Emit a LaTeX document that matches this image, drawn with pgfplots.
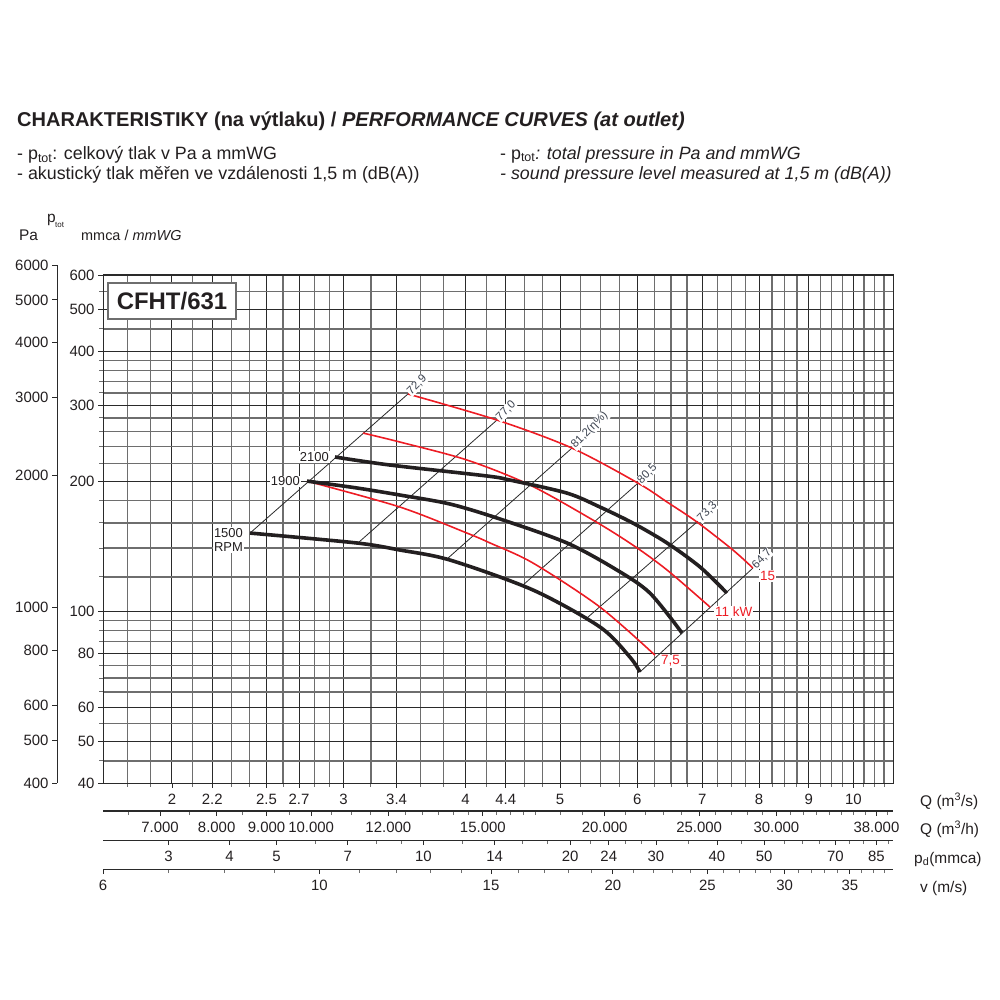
\documentclass[border=0pt]{standalone}
\usepackage{fontspec}
\setmainfont{Liberation Sans}
\usepackage{pgfplots}
\pgfplotsset{compat=1.18}
\definecolor{gridd}{HTML}{2A2A2A}
\definecolor{gridl}{HTML}{6E6E6E}
\definecolor{kw}{HTML}{ED1C24}
\definecolor{eta}{HTML}{3C4350}
\definecolor{ink}{HTML}{231F20}

\pgfplotsset{
  sheet/.style={
    scale only axis, width=790bp,
    tick align=outside, major tick length=5bp, minor tick length=4bp,
    every tick/.style={gridd, line width=0.8bp},
    every minor tick/.style={gridl, line width=1bp},
    axis line style={gridd, line width=1bp},
    tick label style={font=\fontsize{15}{15}\selectfont, text=ink},
    /pgf/number format/assume math mode=true,
  },
  strip/.style={
    sheet, anchor=south west, height=1bp, ymin=0, ymax=1,
    axis x line*=bottom, hide y axis, tick align=outside,
    xticklabel shift=3bp,
  },
}

\begin{document}
\begin{tikzpicture}[x=1bp,y=-1bp]
\path[use as bounding box] (0,0) rectangle (1000,1000);

% headings
\node[anchor=base west, inner sep=0, text=ink, font=\fontsize{20.1}{21}\selectfont\bfseries]
  at (17,126.5) {CHARAKTERISTIKY (na výtlaku) / \textit{PERFORMANCE CURVES (at outlet)}};
\begin{scope}[every node/.style={anchor=base west, inner sep=0, text=ink, font=\fontsize{17.9}{18}\selectfont}]
\node at (17,159.5) {- p\textsubscript{tot}: celkový tlak v Pa a mmWG};
\node at (17,179) {- akustický tlak měřen ve vzdálenosti 1,5 m (dB(A))};
\node at (500,159) {- p\textsubscript{tot}\textit{: total pressure in Pa and mmWG}};
\node at (500,179) {\textit{- sound pressure level measured at 1,5 m (dB(A))}};
\end{scope}
\begin{scope}[every node/.style={anchor=base west, inner sep=0, text=ink}]
\node[font=\fontsize{15.5}{15}\selectfont] at (19,240.5) {Pa};
\node[font=\fontsize{15.5}{15}\selectfont] at (47,222) {p};
\node[font=\fontsize{8}{8}\selectfont] at (55,227) {tot};
\node[font=\fontsize{14.5}{14}\selectfont] at (81,240.5) {mmca / \textit{mmWG}};
\end{scope}

% Pa scale
\begin{axis}[sheet, at={(57bp,-783bp)}, anchor=south west, width=1bp, height=518bp,
  ymode=log, ymin=400, ymax=6000, xmin=0, xmax=1,
  axis y line*=left, hide x axis, tick align=outside,
  ytick={400,500,600,800,1000,2000,3000,4000,5000,6000},
  yticklabels={400,500,600,800,1000,2000,3000,4000,5000,6000},
  minor ytick={}]
\end{axis}

% main chart, mmWG against Q (m3/s)
\begin{axis}[sheet, at={(103bp,-783bp)}, anchor=south west, height=508bp,
  xmode=log, ymode=log,
  xmin=1.6995, xmax=10.979, ymin=40, ymax=600,
  tick pos=left,
  xtick={2,2.2,2.5,2.7,3,3.4,4,4.4,5,6,7,8,9,10},
  xticklabels={2,2.2,2.5,2.7,3,3.4,4,4.4,5,6,7,8,9,10},
  minor xtick={1.8,1.9,2.1,2.3,2.4,2.6,2.8,2.9,3.2,3.6,3.8,4.2,4.6,4.8,
    5.25,5.5,5.75,6.25,6.5,6.75,7.25,7.5,7.75,8.25,8.5,8.75,9.25,9.5,9.75,
    10.25,10.5,10.75},
  ytick={40,50,60,80,100,200,300,400,500,600},
  yticklabels={40,50,60,80,100,200,300,400,500,600},
  minor ytick={45,55,65,70,75,85,90,95,120,140,160,180,220,240,260,280,
    320,340,360,380,450,550},
  grid=both,
  major grid style={gridd, line width=0.9bp},
  minor grid style={gridl, line width=1.2bp},
  xticklabel shift=3bp,
]
% system lines with efficiency
\addplot[gridd, line width=0.8bp] coordinates {(2.405,151.6) (3.492,318.2)};
\addplot[gridd, line width=0.8bp] coordinates {(3.103,143.8) (4.309,276.9)};
\addplot[gridd, line width=0.8bp] coordinates {(3.829,132.0) (5.144,238.5)};
\addplot[gridd, line width=0.8bp] coordinates {(4.582,114.9) (6.012,197.9)};
\addplot[gridd, line width=0.8bp] coordinates {(5.329,96.4) (6.928,161.6)};
\addplot[gridd, line width=0.8bp] coordinates {(6.040,72.3) (7.887,125.8)};
% power curves
\addplot[kw, line width=1.6bp, smooth] coordinates {
  (2.751,200.0) (3.426,174.2) (4.014,151.6) (4.239,143.8) (4.692,129.2)
  (5.495,102.2) (6.257,79.1)};
\addplot[kw, line width=1.6bp, smooth] coordinates {
  (3.140,258.4) (3.426,246.3) (4.014,223.8) (4.659,195.8) (5.405,162.5)
  (5.940,142.2) (6.439,124.5) (7.127,102.2)};
\addplot[kw, line width=1.6bp, smooth] coordinates {
  (3.492,318.2) (4.309,276.9) (5.144,238.5) (6.012,197.9) (6.439,178.9)
  (6.911,160.8) (7.524,138.5) (7.887,125.8)};
% speed curves
\addplot[ink, line width=3.6bp, smooth] coordinates {
  (2.405,151.6) (3.095,143.8) (3.426,138.5) (3.856,131.3) (4.692,111.9)
  (5.495,91.9) (5.898,78.3) (6.040,72.3)};
\addplot[ink, line width=3.6bp, smooth] coordinates {
  (2.751,200.0) (3.095,192.8) (3.426,185.7) (3.856,177.0) (4.340,163.4)
  (5.084,143.8) (5.720,124.5) (6.184,110.1) (6.671,89.0)};
\addplot[ink, line width=3.6bp, smooth] coordinates {
  (2.939,227.4) (3.346,217.9) (4.209,205.5) (4.443,201.1) (5.084,187.6)
  (5.495,174.2) (5.940,159.9) (6.439,143.8) (6.961,126.5) (7.418,110.1)};

% labels
\begin{scope}[every node/.style={font=\fontsize{13}{14.5}\selectfont, text=ink, fill=white, inner sep=1bp}]
\node[anchor=east, xshift=-5bp] at (2.939,227.4) {2100};
\node[anchor=east, xshift=-6bp] at (2.751,200.0) {1900};
\node[anchor=east, align=right, xshift=-6bp, yshift=-7bp] at (2.405,151.6) {1500\\RPM};
\end{scope}
\begin{scope}[every node/.style={font=\fontsize{13.5}{14}\selectfont, text=kw, fill=white, inner sep=1bp, anchor=west}]
\node[xshift=6bp, yshift=-8bp] at (7.887,125.8) {15};
\node[xshift=4bp, yshift=-5bp] at (7.127,102.2) {11 kW};
\node[xshift=5bp, yshift=-6bp] at (6.257,79.1) {7,5};
\end{scope}
\begin{scope}[every node/.style={font=\fontsize{11.5}{12}\selectfont, text=eta, fill=white, inner sep=0.5bp, anchor=west, rotate=45}]
\node[xshift=1bp] at (3.492,318.2) {72,9};
\node[xshift=1bp] at (4.309,276.9) {77,0};
\node[xshift=1bp] at (5.144,238.5) {81,2(η\%)};
\node[xshift=1bp] at (6.012,197.9) {80,5};
\node[xshift=1bp] at (6.928,161.6) {73,3};
\node[xshift=1bp] at (7.887,125.8) {64,7};
\end{scope}
\end{axis}

% m3/h scale
\begin{axis}[strip, xmode=log, at={(103bp,-811bp)}, xmin=6118, xmax=39524,
  axis line style={gridd, line width=2bp},
  xtick={7000,8000,9000,10000,12000,15000,20000,25000,30000,38000},
  xticklabels={7.000,8.000,9.000,10.000,12.000,15.000,20.000,25.000,30.000,38.000},
  minor xtick={6500,7500,8500,9500,10500,11000,11500,12500,13000,13500,14000,
    14500,15500,16000,16500,17000,18000,19000,21000,22000,23000,24000,26000,
    27000,28000,29000,31000,32000,33000,34000,35000,36000,37000,39000}]
\end{axis}

% dynamic pressure scale
\begin{axis}[strip, xmode=log, at={(103bp,-840bp)}, xmin=2.2018, xmax=91.90,
  xtick={3,4,5,7,10,14,20,24,30,40,50,70,85},
  xticklabels={3,4,5,7,10,14,20,24,30,40,50,70,85},
  minor xtick={6,8,9,12,16,18,22,26,28,35,45,55,60,65,75,80,90}]
\end{axis}

% velocity scale
\begin{axis}[strip, xmode=log, at={(103bp,-869bp)}, xmin=6, xmax=38.763,
  xtick={6,10,15,20,25,30,35},
  xticklabels={6,10,15,20,25,30,35},
  minor xtick={7,8,9,11,12,13,14,16,17,18,19,21,22,23,24,26,27,28,29,31,32,
    33,34,36,37,38}]
\end{axis}

% scale names on the right
\begin{scope}[every node/.style={anchor=base west, inner sep=0, text=ink, font=\fontsize{15.5}{15}\selectfont}]
\node at (920,806) {Q (m\textsuperscript{3}/s)};
\node at (920,834) {Q (m\textsuperscript{3}/h)};
\node at (914,863) {p\textsubscript{d}(mmca)};
\node at (920,892) {v (m/s)};
\end{scope}

% model box
\node[draw=gridl, line width=1.3bp, fill=white, minimum width=128bp, minimum height=36bp,
  inner sep=0, text=ink, font=\fontsize{24}{24}\selectfont\bfseries] at (172,301) {CFHT/631};
\end{tikzpicture}
\end{document}
